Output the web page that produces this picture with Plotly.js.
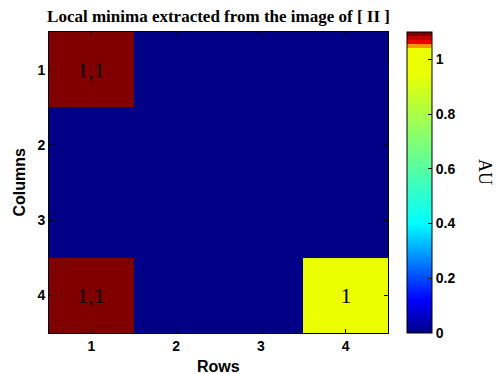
<!DOCTYPE html>
<html>
<head>
<meta charset="utf-8">
<script src="https://cdn.plot.ly/plotly-3.0.1.min.js"></script>
<style>html,body{margin:0;padding:0;background:#fff;}#chart{width:501px;height:374px;}</style>
</head>
<body>
<div id="chart"></div>
<script>
// Data
const rowsCats = [1, 2, 3, 4];       // x axis ("Rows")
const columnsCats = [1, 2, 3, 4];    // y axis ("Columns")
const zValues = [
  [1.1, 0, 0, 0],
  [0,   0, 0, 0],
  [0,   0, 0, 0],
  [1.1, 0, 0, 1]
];
const cbTickVals = [0, 0.2, 0.4, 0.6, 0.8, 1];
const cbTickText = ['0', '0.2', '0.4', '0.6', '0.8', '1'];
const zMax = 1.1;

// Labels for non-zero cells (comma decimal separator)
const cellText = zValues.map(r => r.map(v => v === 0 ? '' : String(v).replace('.', ',')));

// Colour scale resembling the MATLAB figure's colorbar
const stops = [
  [0.0,   'rgb(0,0,135)'],
  [0.12,  'rgb(0,0,255)'],
  [0.40,  'rgb(0,255,255)'],
  [0.95,  'rgb(235,255,0)'],
  [1.042, 'rgb(235,255,0)'],
  [1.0421,'rgb(255,150,0)'],
  [1.057, 'rgb(255,150,0)'],
  [1.0571,'rgb(240,0,0)'],
  [1.071, 'rgb(240,0,0)'],
  [1.0711,'rgb(195,0,0)'],
  [1.085, 'rgb(195,0,0)'],
  [1.0851,'rgb(128,0,0)'],
  [1.1,   'rgb(128,0,0)']
];
const colorscale = stops.map(s => [Math.min(1, s[0] / zMax), s[1]]);

const boldSans = {family: 'Liberation Sans, Arial, sans-serif', size: 14, color: '#000', weight: 'bold'};

const trace = {
  type: 'heatmap',
  x: rowsCats,
  y: columnsCats,
  z: zValues,
  text: cellText,
  texttemplate: '%{text}',
  textfont: {family: 'Liberation Serif, Times New Roman, serif', size: 22, color: '#000'},
  zmin: 0,
  zmax: zMax,
  colorscale: colorscale,
  hoverinfo: 'skip',
  colorbar: {
    x: 1.056, xanchor: 'left', xref: 'paper',
    y: 0.5, yanchor: 'middle', len: 1, lenmode: 'fraction',
    thickness: 25, thicknessmode: 'pixels',
    xpad: 0, ypad: 0,
    outlinewidth: 1, outlinecolor: '#000',
    tickmode: 'array', tickvals: cbTickVals, ticktext: cbTickText,
    ticks: 'inside', ticklen: 4, tickcolor: '#000', tickwidth: 1,
    tickfont: boldSans
  }
};

const layout = {
  width: 501, height: 374,
  margin: {l: 49, r: 113, t: 32, b: 41},
  paper_bgcolor: '#fff', plot_bgcolor: '#fff',
  title: {
    text: '<b>Local minima extracted from the image of [ II ]</b>',
    font: {family: 'Liberation Serif, Times New Roman, serif', size: 17, color: '#000'},
    xref: 'paper', x: 0.5, xanchor: 'center',
    yref: 'container', y: 1 - 16.5 / 374, yanchor: 'middle'
  },
  xaxis: {
    tickmode: 'array', tickvals: rowsCats, ticktext: rowsCats.map(String),
    ticks: 'inside', ticklen: 4, tickcolor: '#000',
    showline: true, linecolor: '#000', linewidth: 1, mirror: 'ticks',
    showgrid: false, zeroline: false,
    tickfont: boldSans, range: [0.5, 4.5]
  },
  yaxis: {
    tickmode: 'array', tickvals: columnsCats, ticktext: columnsCats.map(String),
    ticks: 'inside', ticklen: 4, tickcolor: '#000',
    showline: true, linecolor: '#000', linewidth: 1, mirror: 'ticks',
    showgrid: false, zeroline: false,
    tickfont: boldSans, range: [4.5, 0.5]
  },
  annotations: [
    {text: 'Rows', xref: 'paper', yref: 'paper', x: 0.5, y: 0, yanchor: 'middle', xanchor: 'center',
     yshift: -(366 - 333), showarrow: false, font: {family: 'Liberation Sans, Arial, sans-serif', size: 16, color: '#000', weight: 'bold'}},
    {text: 'Columns', xref: 'paper', yref: 'paper', x: 0, y: 0.5, xanchor: 'center', yanchor: 'middle',
     xshift: 19 - 49, textangle: -90, showarrow: false, font: {family: 'Liberation Sans, Arial, sans-serif', size: 16, color: '#000', weight: 'bold'}},
    {text: 'AU', xref: 'paper', yref: 'paper', x: 1, y: 0.5, xanchor: 'center', yanchor: 'middle',
     xshift: 485 - 388, yshift: 0.5 * 301 - (172 - 32), textangle: 90, showarrow: false,
     font: {family: 'Liberation Serif, Times New Roman, serif', size: 18, color: '#000'}}
  ]
};

Plotly.newPlot('chart', [trace], layout, {displayModeBar: false, staticPlot: true});
</script>
</body>
</html>
